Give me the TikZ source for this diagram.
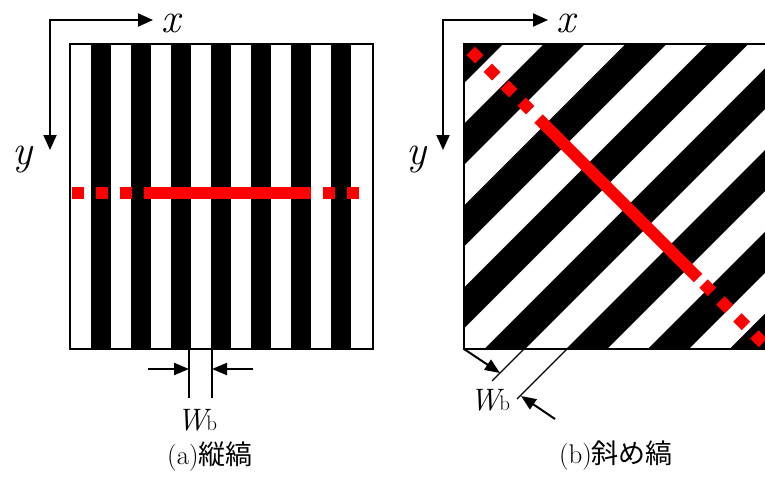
\documentclass[tikz,border=0pt]{standalone}
\usepackage{fontspec}
\newfontfamily\jpfont{Noto Sans CJK JP}
\usetikzlibrary{arrows.meta}
\definecolor{colmark}{HTML}{FF0000}
\tikzset{
    box frame/.style={draw=black, line width=1.5pt},
    stripe/.style={fill=black},
    axis arrows/.style={{Triangle[length=15pt, width=13pt]}-{Triangle[length=15pt, width=13pt]},
        line width=2pt},
    dim arrow/.style={-{Triangle[length=15pt, width=12pt]}, line width=2pt},
    dim line/.style={line width=1.1pt},
    red dash/.style={draw=colmark, line width=12pt, dash pattern=on 12pt off 12pt},
    red solid/.style={draw=colmark, line width=12pt},
    axis label/.style={font=\fontsize{42}{44}\selectfont\itshape, inner sep=0pt, anchor=base},
    width label/.style={font=\fontsize{31}{33}\selectfont, inner sep=0pt, anchor=base},
    sub caption/.style={font=\fontsize{27}{30}\selectfont, inner sep=0pt},
}
\newcommand{\Wbsym}{{\itshape W}\hspace{-1pt}{\fontsize{21}{23}\selectfont b}}

\begin{document}
\begin{tikzpicture}[x=1pt, y=-1pt]

\useasboundingbox (0,0) rectangle (765,479);

% ===== (a) VERTICAL STRIPES =====
\coordinate (boxA-nw) at (70,44);
\coordinate (boxA-se) at (373,349);
\foreach \k in {0,...,6}
    \fill[stripe] ({90.7+40*\k},44) rectangle ({110.7+40*\k},349);
\draw[box frame] (boxA-nw) rectangle (boxA-se);

\coordinate (redA1) at (71.7,193);
\coordinate (redA2) at (144,193);
\coordinate (redA3) at (311,193);
\coordinate (redA4) at (323.3,193);
\coordinate (redA5) at (359.5,193);
\draw[red dash] (redA1) -- (redA2);
\draw[red solid] (redA2) -- (redA3);
\draw[red dash] (redA4) -- (redA5);

% ===== (a) AXES =====
\coordinate (axA) at (50,20);
\coordinate (axA-x) at (153,20);
\coordinate (axA-y) at (50,150);
\draw[axis arrows] (axA-y) -- (axA) -- (axA-x);
\node[axis label] (labAx) at (171,32) {x};
\node[axis label] (labAy) at (22,164) {y};

% ===== (a) WIDTH =====
\coordinate (wA1top) at (189,350);
\coordinate (wA1bot) at (189,398);
\coordinate (wA2top) at (212,350);
\coordinate (wA2bot) at (212,398);
\coordinate (wA1tail) at (148,369);
\coordinate (wA1tip) at (189,369);
\coordinate (wA2tail) at (253,369);
\coordinate (wA2tip) at (212,369);
\draw[dim line] (wA1top) -- (wA1bot);
\draw[dim line] (wA2top) -- (wA2bot);
\draw[dim arrow] (wA1tail) -- (wA1tip);
\draw[dim arrow] (wA2tail) -- (wA2tip);
\node[width label] (labWa) at (197,430) {\Wbsym};
\node[sub caption] (capA) at (210,457) {(a){\jpfont 縦縞}};

% ===== (b) OBLIQUE STRIPES =====
\coordinate (boxB-nw) at (464,44);
\coordinate (boxB-se) at (767,349);
\coordinate (boxB-sw) at (464,349);
\begin{scope}
    \clip (boxB-nw) rectangle (boxB-se);
    \foreach \m in {0,...,7} {
        \pgfmathsetmacro{\ca}{506.1+81.8*\m}
        \pgfmathsetmacro{\cb}{547+81.8*\m}
        \fill[stripe] (\ca,0) -- (\cb,0) -- ({\cb-420},420) -- ({\ca-420},420) -- cycle;
    }
\end{scope}
\draw[box frame] (boxB-nw) rectangle (boxB-se);

\coordinate (redB1) at (470.8,50.8);
\coordinate (redB2) at (538.5,118.5);
\coordinate (redB3) at (698,278);
\coordinate (redB4) at (703.5,283.5);
\coordinate (redB5) at (763,343);
\draw[red dash] (redB1) -- (redB2);
\draw[red solid] (redB2) -- (redB3);
\draw[red dash] (redB4) -- (redB5);

% ===== (b) AXES =====
\coordinate (axB) at (443,20);
\coordinate (axB-x) at (548,20);
\coordinate (axB-y) at (443,150);
\draw[axis arrows] (axB-y) -- (axB) -- (axB-x);
\node[axis label] (labBx) at (566,32) {x};
\node[axis label] (labBy) at (416,164) {y};

% ===== (b) WIDTH =====
\coordinate (wB1top) at (524,349);
\coordinate (wB1bot) at (492,381);
\coordinate (wB2top) at (567,349);
\coordinate (wB2bot) at (517,399);
\coordinate (wB1tip) at (500,373);
\coordinate (wB2tail) at (555,419);
\coordinate (wB2tip) at (521,396);
\draw[dim line] (wB1top) -- (wB1bot);
\draw[dim line] (wB2top) -- (wB2bot);
\draw[dim arrow] (boxB-sw) -- (wB1tip);
\draw[dim arrow] (wB2tail) -- (wB2tip);
\node[width label] (labWb) at (490,410) {\Wbsym};
\node[sub caption] (capB) at (616,456) {(b){\jpfont 斜め縞}};

\end{tikzpicture}
\end{document}
